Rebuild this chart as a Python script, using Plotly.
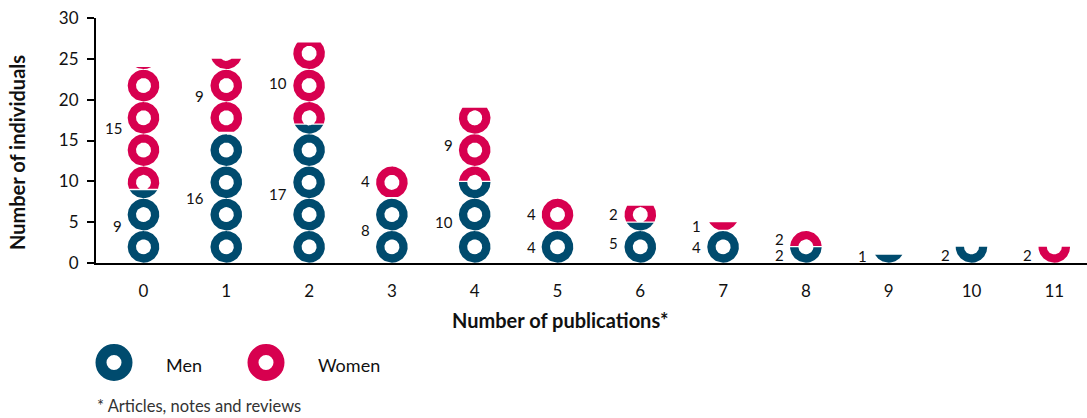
import numpy as np
import plotly.graph_objects as go

# ---------------- data ----------------
publications = [0, 1, 2, 3, 4, 5, 6, 7, 8, 9, 10, 11]
men = [9, 16, 17, 8, 10, 4, 5, 4, 2, 1, 2, 0]
women = [15, 9, 10, 4, 9, 4, 2, 1, 2, 0, 0, 2]
series_names = ["Men", "Women"]
y_ticks = [0, 5, 10, 15, 20, 25, 30]

# ---------------- style / layout constants ----------------
BLUE = "#004b6e"
RED = "#d7004f"
FONT = "Lato, 'Open Sans', sans-serif"
W, H = 1087, 418
ML, MR, MT, MB = 96, 0, 18, 155
PLOT_W = W - ML - MR
PLOT_H = H - MT - MB
X_RANGE = [-0.5737, -0.5737 + PLOT_W / 82.8]
Y_RANGE = [0, 30]
PX_X = PLOT_W / (X_RANGE[1] - X_RANGE[0])   # px per x unit
PX_Y = PLOT_H / (Y_RANGE[1] - Y_RANGE[0])   # px per y unit

PITCH = 3.95                 # y units per repeated ring symbol
BASE = 0.04                  # offset of first ring above zero
RX_OUT = 15.8 / PX_X
RY_OUT = 15.8 / PX_Y
RX_IN = 7.5 / PX_X
RY_IN = 7.5 / PX_Y
GAP = 0.65 / PX_Y            # white gap at colour change (each side)
OV = 0.6 / PX_X              # overlap of half-rings to avoid seams
MIN_PIECE = 0.12             # pieces thinner than this are not visible


def ring_piece(cx, cy, lo, hi):
    a = max(lo, cy - RY_OUT)
    b = min(hi, cy + RY_OUT)
    if b - a < MIN_PIECE:
        return []
    ys = list(np.linspace(a, b, 60))
    for c in (cy - RY_IN, cy + RY_IN):
        if a < c < b:
            ys.append(c)
    ys = np.array(sorted(ys))
    dy = ys - cy
    o = RX_OUT * np.sqrt(np.clip(1 - (dy / RY_OUT) ** 2, 0, None))
    i = RX_IN * np.sqrt(np.clip(1 - (dy / RY_IN) ** 2, 0, None))
    inner_left = np.where(i > 0, cx - i, cx + OV)
    left_x = list(cx - o) + list(inner_left[::-1])
    left_y = list(ys) + list(ys[::-1])
    right_x = list(cx + i) + list((cx + o)[::-1])
    right_y = list(ys) + list(ys[::-1])
    return [(left_x, left_y), (right_x, right_y)]


def segment_polys(cx, lo, hi):
    xs, ys = [], []
    k0 = max(0, int(np.floor(lo / PITCH)) - 1)
    k1 = int(np.ceil(hi / PITCH)) + 1
    for k in range(k0, k1 + 1):
        cy = BASE + PITCH * k + RY_OUT
        for px, py in ring_piece(cx, cy, lo, hi):
            xs += px + [None]
            ys += py + [None]
    return xs, ys


fig = go.Figure()
blue_x, blue_y, red_x, red_y = [], [], [], []
for cat, m, w in zip(publications, men, women):
    both = m > 0 and w > 0
    if m > 0:
        x, y = segment_polys(cat, 0, m - (GAP if both else 0))
        blue_x += x; blue_y += y
    if w > 0:
        x, y = segment_polys(cat, m + (GAP if both else 0), m + w)
        red_x += x; red_y += y

for name, xs, ys, col in [(series_names[0], blue_x, blue_y, BLUE),
                          (series_names[1], red_x, red_y, RED)]:
    fig.add_trace(go.Scatter(x=xs, y=ys, mode="lines", fill="toself",
                             fillcolor=col, line=dict(width=0, color=col),
                             name=name, showlegend=False, hoverinfo="skip"))

# value labels
ann = []
for cat, m, w in zip(publications, men, women):
    if m > 0:
        ann.append(dict(x=cat, y=max(m / 2, 0.9), xref="x", yref="y", text=str(m),
                        showarrow=False, xanchor="right", yanchor="middle", xshift=-20,
                        font=dict(size=15, color="#111", family=FONT)))
    if w > 0:
        ann.append(dict(x=cat, y=max(m + w / 2, 0.9), xref="x", yref="y", text=str(w),
                        showarrow=False, xanchor="right", yanchor="middle", xshift=-20,
                        font=dict(size=15, color="#111", family=FONT)))


def paper(px, py):
    return (px - ML) / PLOT_W, (H - MB - py) / PLOT_H


# axis titles
tx, ty = paper(560, 320)
ann.append(dict(x=tx, y=ty, xref="paper", yref="paper", text="<b>Number of publications*</b>",
                showarrow=False, xanchor="center", yanchor="middle",
                font=dict(size=20, color="#111", family=FONT)))
tx, ty = paper(17, 153)
ann.append(dict(x=tx, y=ty, xref="paper", yref="paper", text="<b>Number of individuals</b>",
                showarrow=False, xanchor="center", yanchor="middle", textangle=-90,
                font=dict(size=20, color="#111", family=FONT)))

# legend
shapes = []
for (cxp, cyp), col, lbl, lx in [((114, 362.5), BLUE, series_names[0], 164),
                                  ((266, 362.5), RED, series_names[1], 316)]:
    px_, py_ = paper(cxp, cyp)
    shapes.append(dict(type="circle", xref="paper", yref="paper",
                       xsizemode="pixel", ysizemode="pixel",
                       xanchor=px_, yanchor=py_, x0=-13, x1=13, y0=-13, y1=13,
                       line=dict(color=col, width=11), fillcolor="rgba(0,0,0,0)"))
    tx, ty = paper(lx, 365)
    ann.append(dict(x=tx, y=ty, xref="paper", yref="paper", text=lbl, showarrow=False,
                    xanchor="left", yanchor="middle",
                    font=dict(size=18, color="#111", family=FONT)))

# footnote
tx, ty = paper(95, 406)
ann.append(dict(x=tx, y=ty, xref="paper", yref="paper", text="* Articles, notes and reviews",
                showarrow=False, xanchor="left", yanchor="middle",
                font=dict(size=16.5, color="#333", family=FONT)))

fig.update_layout(
    width=W, height=H, margin=dict(l=ML, r=MR, t=MT, b=MB),
    paper_bgcolor="white", plot_bgcolor="white",
    font=dict(family=FONT, color="#111"),
    showlegend=False,
    annotations=ann, shapes=shapes,
    xaxis=dict(range=X_RANGE, tickmode="array", tickvals=publications,
               ticktext=[str(p) for p in publications], showgrid=False, zeroline=False,
               showline=True, linecolor="black", linewidth=2, ticks="",
               ticklabelstandoff=12, tickfont=dict(size=17, color="#111", family=FONT),
               fixedrange=True),
    yaxis=dict(range=Y_RANGE, tickmode="array", tickvals=y_ticks,
               ticktext=[str(t) for t in y_ticks], showgrid=False, zeroline=False,
               showline=True, linecolor="black", linewidth=2, ticks="outside",
               ticklen=7, tickwidth=2, tickcolor="black", ticklabelstandoff=5,
               tickfont=dict(size=17, color="#111", family=FONT), fixedrange=True),
)

fig.write_html("out.html", config={"displayModeBar": False},
               post_script="document.body.style.margin='0';document.body.style.padding='0';")
